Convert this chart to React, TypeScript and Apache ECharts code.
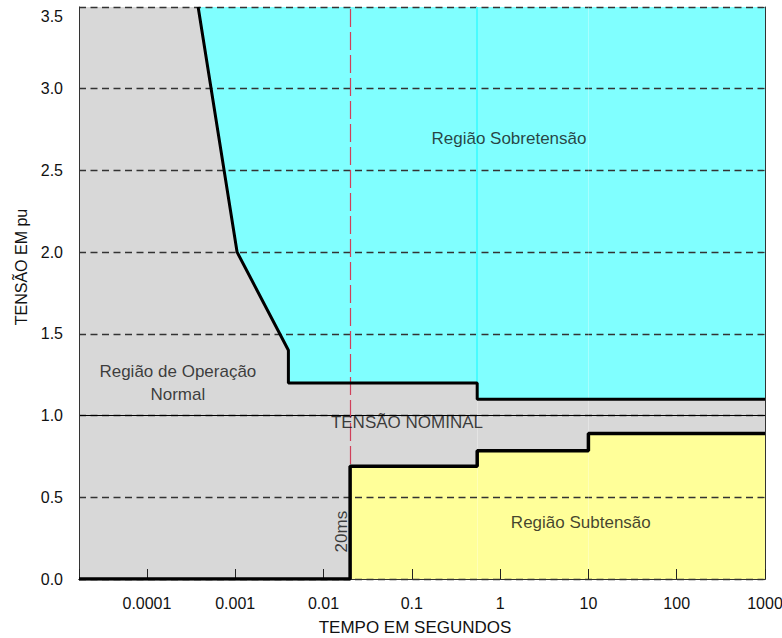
import { useEffect, useRef } from "react";
import * as echarts from "echarts";

// Axis ranges (time in seconds on a log scale, voltage in pu)
const X_MIN = 1.7e-5;
const X_MAX = 1000;
const Y_MIN = 0;
const Y_MAX = 3.5;

const xTickLabels = ["0.0001", "0.001", "0.01", "0.1", "1", "10", "100", "1000"];

// Overvoltage limit curve
const upperTime = [0.00038, 0.00105, 0.004, 0.004, 0.55, 0.55, 1000];
const upperVolt = [3.5, 2.0, 1.4, 1.2, 1.2, 1.1, 1.1];

// Undervoltage limit curve
const lowerTime = [X_MIN, 0.02, 0.02, 0.55, 0.55, 10, 10, 1000];
const lowerVolt = [0, 0, 0.69, 0.69, 0.785, 0.785, 0.89, 0.89];

const nominalVoltage = 1.0;
const markerTime = 0.02; // 20 ms

// Region captions, anchored in data coordinates
const regionNames = [
  "Região Sobretensão",
  "Região de Operação\nNormal",
  "TENSÃO NOMINAL",
  "Região Subtensão",
  "20ms",
];
const regionTime = [1.26, 0.000224, 0.088, 8.2, 0.0161];
const regionVolt = [2.695, 1.197, 0.955, 0.345, 0.29];
const regionRotate = [0, 0, 0, 0, 90];

export default function App() {
  const ref = useRef<HTMLDivElement>(null);

  useEffect(() => {
    if (!ref.current) return;
    const chart = echarts.init(ref.current, undefined, { renderer: "svg" });
    const font = "'Liberation Sans', Arial, Helvetica, sans-serif";
    const textColor = "#111";

    const pairs = (xs: number[], ys: number[]) => xs.map((x, i) => [x, ys[i]]);
    const upper = pairs(upperTime, upperVolt);
    const lower = pairs(lowerTime, lowerVolt);

    const fmtX = (v: number) => {
      const lbl = xTickLabels.find(
        (s) => Math.abs(Math.log10(Number(s)) - Math.log10(v)) < 1e-6
      );
      return lbl ?? "";
    };

    const seamTimes = [upperTime[0], upperTime[1], upperTime[2], upperTime[4], lowerTime[5]];

    chart.setOption({
      animation: false,
      backgroundColor: "#ffffff",
      textStyle: { fontFamily: font },
      grid: {
        left: 79,
        right: 17,
        top: 7,
        bottom: 59,
        show: true,
        backgroundColor: "#d8d8d8",
        borderWidth: 0,
        containLabel: false,
        outerBoundsMode: "none",
      },
      xAxis: [
        {
          type: "log",
          logBase: 10,
          min: X_MIN,
          max: X_MAX,
          splitNumber: 10,
          position: "bottom",
          z: 5,
          name: "TEMPO EM SEGUNDOS",
          nameLocation: "middle",
          nameGap: 40,
          nameMoveOverlap: false,
          nameTextStyle: {
            fontSize: 17,
            color: textColor,
            fontFamily: font,
            padding: [0, 14, 0, 0],
          },
          axisLine: { show: true, onZero: false, lineStyle: { color: "#000", width: 1 } },
          axisTick: { show: true, inside: true, length: 10, lineStyle: { color: "#222" } },
          minorTick: { show: false },
          axisLabel: {
            margin: 16,
            fontSize: 16,
            color: textColor,
            fontFamily: font,
            formatter: fmtX,
            hideOverlap: false,
          },
          splitLine: { show: false },
        },
        {
          type: "log",
          logBase: 10,
          min: X_MIN,
          max: X_MAX,
          position: "top",
          z: 5,
          axisLine: { show: true, lineStyle: { color: "#333", width: 1 } },
          axisTick: { show: false },
          axisLabel: { show: false },
          splitLine: { show: false },
        },
      ],
      yAxis: [
        {
          type: "value",
          min: Y_MIN,
          max: Y_MAX,
          interval: 0.5,
          z: 5,
          name: "TENSÃO EM pu",
          nameLocation: "middle",
          nameRotate: 90,
          nameGap: 50,
          nameMoveOverlap: false,
          nameTextStyle: {
            fontSize: 16,
            color: textColor,
            fontFamily: font,
            padding: [0, 0, 0, 52],
          },
          axisLine: { show: true, lineStyle: { color: "#333", width: 1 } },
          axisTick: { show: false },
          axisLabel: {
            margin: 16,
            fontSize: 16,
            color: textColor,
            fontFamily: font,
            formatter: (v: number) => (v === Y_MAX ? `{top|${v.toFixed(1)}}` : v.toFixed(1)),
            rich: {
              top: {
                fontSize: 16,
                color: textColor,
                fontFamily: font,
                padding: [18, 0, 0, 0],
              },
            },
          },
          splitLine: {
            show: true,
            lineStyle: { color: "#333", width: 1.3, type: [7, 4.5] },
          },
        },
        {
          type: "value",
          min: Y_MIN,
          max: Y_MAX,
          position: "right",
          z: 5,
          axisLine: { show: true, lineStyle: { color: "#333", width: 1 } },
          axisTick: { show: false },
          axisLabel: { show: false },
          splitLine: { show: false },
        },
      ],
      series: [
        {
          name: "sobretensao-area",
          type: "line",
          data: upper,
          symbol: "none",
          silent: true,
          z: 2,
          lineStyle: { opacity: 0 },
          areaStyle: { color: "#80ffff", opacity: 1, origin: "end" },
          markLine: {
            silent: true,
            symbol: "none",
            label: { show: false },
            data: [
              ...seamTimes.map((t) => ({
                xAxis: t,
                lineStyle: { color: "rgba(255,255,255,0.3)", width: 1, type: "solid" },
              })),
              [
                { coord: [upperTime[4], upperVolt[5]], lineStyle: { color: "#48fcff", width: 2, type: "solid" } },
                { coord: [upperTime[4], Y_MAX] },
              ],
            ],
          },
        },
        {
          name: "subtensao-area",
          type: "line",
          data: lower,
          symbol: "none",
          silent: true,
          z: 2,
          lineStyle: { opacity: 0 },
          areaStyle: { color: "#ffff99", opacity: 1, origin: "start" },
          markLine: {
            silent: true,
            symbol: "none",
            label: { show: false },
            data: [
              { yAxis: nominalVoltage, lineStyle: { color: "#000", width: 1, type: "solid" } },
              { xAxis: markerTime, lineStyle: { color: "#d0405a", width: 1.2, type: [18, 5] } },
            ],
          },
        },
        {
          name: "limite-superior",
          type: "line",
          data: upper,
          symbol: "none",
          silent: true,
          z: 20,
          lineStyle: { color: "#000", width: 3 },
        },
        {
          name: "limite-inferior",
          type: "line",
          data: lower,
          symbol: "none",
          silent: true,
          z: 20,
          lineStyle: { color: "#000", width: 3.5 },
        },
        {
          name: "legendas",
          type: "scatter",
          symbolSize: 0,
          silent: true,
          z: 30,
          itemStyle: { color: "#111" },
          data: regionNames.map((n, i) => ({
            name: n,
            value: [regionTime[i], regionVolt[i]],
            label: { rotate: regionRotate[i] },
          })),
          label: {
            show: true,
            position: "inside",
            formatter: "{b}",
            fontSize: 17,
            lineHeight: 23,
            color: textColor,
            textBorderWidth: 0,
            textBorderColor: "transparent",
            fontFamily: font,
            align: "center",
            verticalAlign: "middle",
          },
        },
      ],
    });

    return () => chart.dispose();
  }, []);

  return (
    <div
      ref={ref}
      style={{ position: "fixed", left: 0, top: 0, width: 782, height: 638 }}
    />
  );
}
